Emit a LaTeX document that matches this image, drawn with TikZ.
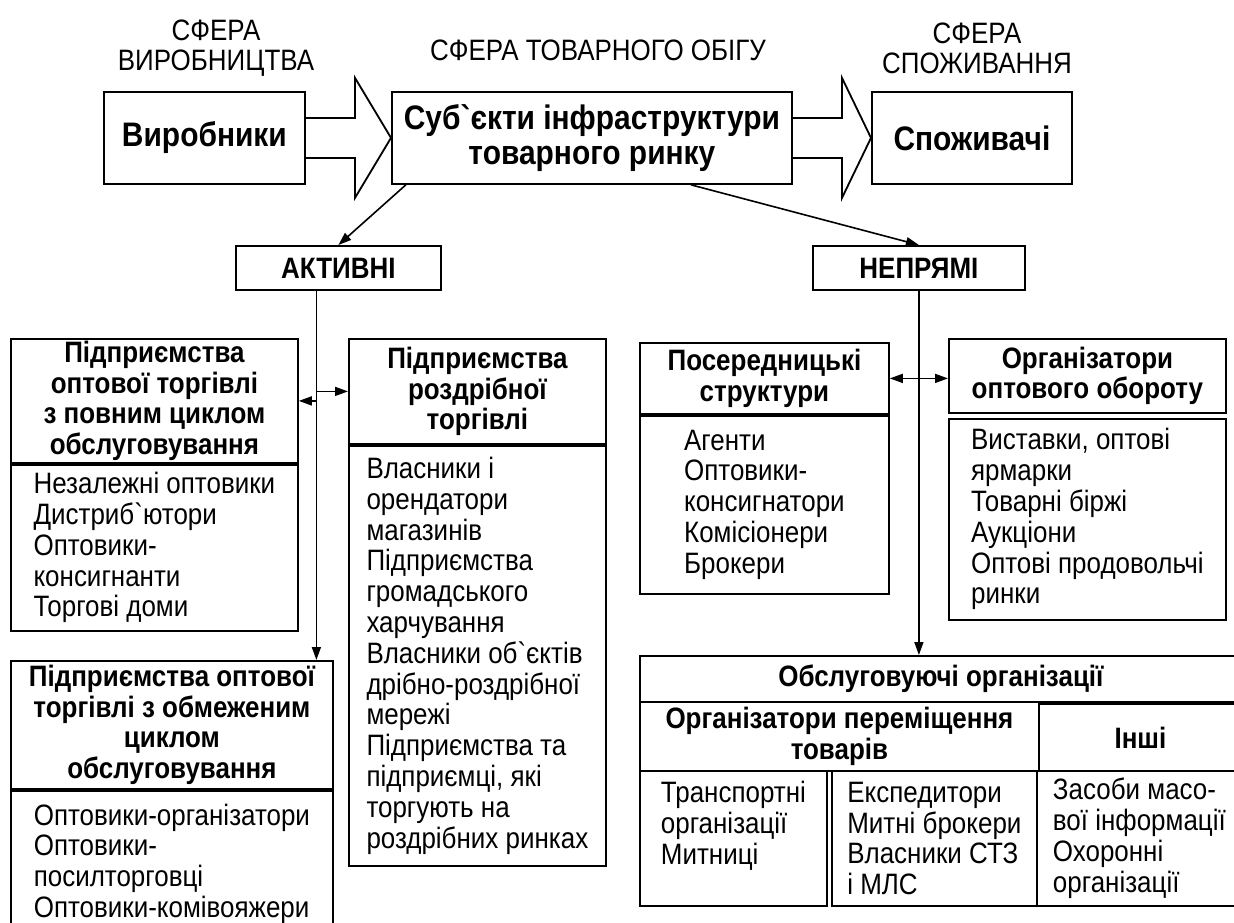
\documentclass[tikz,border=0pt]{standalone}
\usepackage{fontspec}
\newfontfamily\arial[FakeStretch=0.88]{Liberation Sans}
\usetikzlibrary{arrows.meta, calc}

\begin{document}
\begin{tikzpicture}[
    x=1pt, y=-1pt,
    >={Triangle[length=13pt, width=9pt]},
    % --- styles ---
    % plain box, placed by its upper left corner
    frame/.style={draw, line width=1.8pt, inner sep=0pt, anchor=north west},
    % top row: big bold boxes
    topbox/.style={frame, align=center, font=\arial\bfseries\fontsize{34}{35}\selectfont},
    % box titles
    hdr/.style={frame, align=center, font=\arial\bfseries\fontsize{29.5}{30.5}\selectfont},
    % lists under the titles
    body/.style={frame, align=left, font=\arial\fontsize{29.5}{30.8}\selectfont},
    % sphere captions
    sphere/.style={align=center, font=\arial\fontsize{29.5}{30}\selectfont},
    % connectors
    link/.style={->, line width=1.6pt},
    fat_arrow/.style={draw, line width=1.8pt, line join=miter}
]
\path[use as bounding box, clip] (0,0) rectangle (1234,922);

% ==================== 1. top row ====================
\node[sphere] (SphProd) at (216,48) {СФЕРА\\ВИРОБНИЦТВА};
\node[sphere] (SphTrade) at (598,50) {СФЕРА ТОВАРНОГО ОБІГУ};
\node[sphere] (SphCons) at (977,48) {СФЕРА\\СПОЖИВАННЯ};

\node[topbox, minimum width=201pt, minimum height=92pt] (Vyr) at (103,91) {Виробники};
\node[topbox, minimum width=400pt, minimum height=92pt] (Subj) at (391,91) {Суб`єкти інфраструктури\\товарного ринку};
\node[topbox, minimum width=200pt, minimum height=92pt] (Spoz) at (871,91) {Споживачі};

% --- wide arrows between the spheres ---
\draw[fat_arrow] ([yshift=-20pt]Vyr.east) -- ([xshift=-36pt, yshift=-20pt]Subj.west)
    -- ([xshift=-36pt, yshift=-60pt]Subj.west) -- (Subj.west)
    -- ([xshift=-36pt, yshift=60pt]Subj.west) -- ([xshift=-36pt, yshift=20pt]Subj.west)
    -- ([yshift=20pt]Vyr.east);
\draw[fat_arrow] ([yshift=-20pt]Subj.east) -- ([xshift=-29pt, yshift=-20pt]Spoz.west)
    -- ([xshift=-29pt, yshift=-60pt]Spoz.west) -- (Spoz.west)
    -- ([xshift=-29pt, yshift=60pt]Spoz.west) -- ([xshift=-29pt, yshift=20pt]Spoz.west)
    -- ([yshift=20pt]Subj.east);

% ==================== 2. two kinds ====================
\node[hdr, minimum width=205pt, minimum height=44pt] (Act) at (235,245) {АКТИВНІ};
\node[hdr, minimum width=212pt, minimum height=44pt] (Nep) at (812,245) {НЕПРЯМІ};

\draw[link] ([xshift=-186pt]Subj.south) -- (Act.north);
\draw[link] ([xshift=99pt]Subj.south) -- (Nep.north);

% ==================== 3. active side ====================
\node[hdr, minimum width=287pt, minimum height=124pt] (OptFullH) at (10,338)
    {Підприємства\\оптової торгівлі\\з повним циклом\\обслуговування};
\node[body, minimum width=287pt, minimum height=166pt] (OptFullB) at (OptFullH.south west)
    {Незалежні оптовики\\Дистриб`ютори\\Оптовики-\\консигнанти\\Торгові доми};

\node[hdr, minimum width=257pt, minimum height=105pt] (RozdrH) at (348,338)
    {Підприємства\\роздрібної\\торгівлі};
\node[body, minimum width=257pt, minimum height=420pt] (RozdrB) at (RozdrH.south west)
    {Власники і\\орендатори\\магазинів\\Підприємства\\громадського\\харчування\\Власники об`єктів\\дрібно-роздрібної\\мережі\\Підприємства та\\підприємці, які\\торгують на\\роздрібних ринках};

\node[hdr, minimum width=322pt, minimum height=128pt] (OptLimH) at (10,660)
    {Підприємства оптової\\торгівлі з обмеженим\\циклом\\обслуговування};
\node[body, minimum width=322pt, minimum height=146pt] (OptLimB) at (OptLimH.south west)
    {Оптовики-організатори\\Оптовики-\\посилторговці\\Оптовики-комівояжери};

\coordinate (ActV) at ([xshift=-22pt]Act.south);
\draw[link] (ActV) -- (ActV |- OptLimH.north);
\draw[link] (ActV |- OptFullH.east) -- (OptFullH.east);
\draw[link] (ActV |- RozdrH.west) -- (RozdrH.west);

% ==================== 4. indirect side ====================
\node[hdr, minimum width=249pt, minimum height=71pt] (PosH) at (639,342)
    {Посередницькі\\структури};
\node[body, minimum width=249pt, minimum height=178pt] (PosB) at (PosH.south west)
    {Агенти\\Оптовики-\\консигнатори\\Комісіонери\\Брокери};

\node[hdr, minimum width=277pt, minimum height=74pt] (OrgH) at (948,338)
    {Організатори\\оптового обороту};
\node[body, minimum width=277pt, minimum height=201pt] (OrgB) at ([yshift=-4pt]OrgH.south west)
    {Виставки, оптові\\ярмарки\\Товарні біржі\\Аукціони\\Оптові продовольчі\\ринки};

\draw[link, <->] (PosH.east) -- (PosH.east -| OrgH.west);

% --- service organisations ---
\node[hdr, minimum width=602pt, minimum height=46pt] (Obsl) at (639,655) {Обслуговуючі організації};
\node[hdr, minimum width=399pt, minimum height=69pt] (PeremH) at (639,701)
    {Організатори переміщення\\товарів};
\node[hdr, minimum width=203pt, minimum height=67pt] (InshiH) at (1038,703) {Інші};

\node[body, minimum width=187pt, minimum height=135pt] (Transp) at (639,770)
    {Транспортні\\організації\\Митниці\\\mbox{}};
\node[body, minimum width=205pt, minimum height=135pt] (Eksped) at (831,770)
    {Експедитори\\Митні брокери\\Власники СТЗ\\і МЛС};
\node[body, minimum width=205pt, minimum height=135pt] (Zasoby) at (1036,770)
    {Засоби масо-\\вої інформації\\Охоронні\\організації};

\draw[link] (Nep.south) -- (Nep.south |- Obsl.north);

\end{tikzpicture}
\end{document}
